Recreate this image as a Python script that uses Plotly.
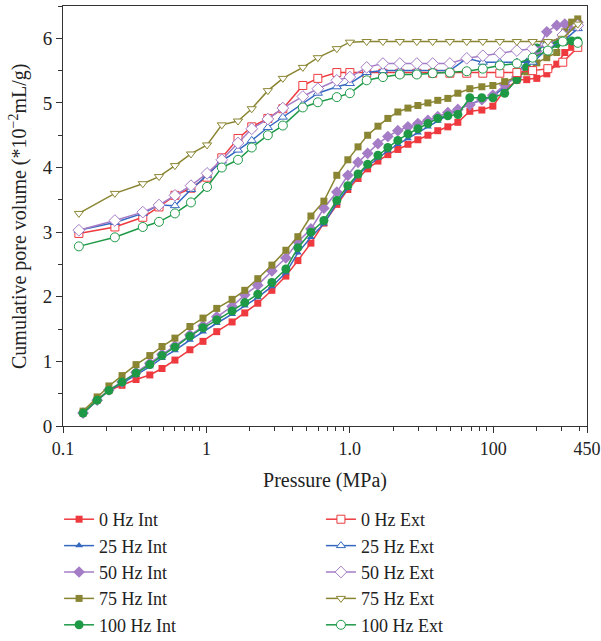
import plotly.graph_objects as go

# Intrusion (Int) pressure grid, MPa
p_int = [0.138, 0.173, 0.209, 0.258, 0.323, 0.403, 0.490, 0.603, 0.767, 0.946,
         1.18, 1.51, 1.85, 2.28, 2.86, 3.58, 4.34, 5.35, 6.59, 8.11,
         9.68, 11.4, 13.3, 15.7, 18.4, 21.6, 25.4, 29.8, 35.0, 41.0,
         48.2, 56.6, 68.6, 83.2, 99.3, 120, 146, 171, 201, 236,
         277, 315, 352, 388]

int_0 = [0.20, 0.40, 0.55, 0.63, 0.72, 0.79, 0.89, 1.02, 1.18, 1.31,
         1.46, 1.61, 1.75, 1.90, 2.10, 2.32, 2.56, 2.83, 3.14, 3.43,
         3.66, 3.83, 3.98, 4.10, 4.20, 4.28, 4.36, 4.43, 4.50, 4.57,
         4.63, 4.70, 4.87, 4.89, 4.95, 5.20, 5.35, 5.36, 5.38, 5.45,
         5.60, 5.78, 5.86, 5.88]
int_25 = [0.20, 0.39, 0.55, 0.66, 0.79, 0.92, 1.05, 1.17, 1.33, 1.46,
          1.59, 1.73, 1.86, 1.99, 2.16, 2.37, 2.68, 2.92, 3.13, 3.45,
          3.68, 3.88, 4.02, 4.15, 4.26, 4.36, 4.45, 4.54, 4.63, 4.72,
          4.80, 4.90, 4.98, 5.05, 5.10, 5.25, 5.45, 5.65, 5.82, 5.90,
          5.95, 6.05, 6.15, 6.22]
int_50 = [0.20, 0.40, 0.56, 0.68, 0.83, 0.97, 1.11, 1.24, 1.41, 1.55,
          1.69, 1.85, 2.03, 2.18, 2.40, 2.60, 2.85, 3.05, 3.37, 3.62,
          3.88, 4.08, 4.22, 4.37, 4.48, 4.57, 4.63, 4.68, 4.73, 4.79,
          4.85, 4.90, 4.97, 5.05, 5.12, 5.28, 5.40, 5.52, 5.80, 6.10,
          6.20, 6.22, 6.20, 6.25]
int_75 = [0.23, 0.45, 0.62, 0.78, 0.95, 1.09, 1.23, 1.36, 1.54, 1.67,
          1.82, 1.96, 2.10, 2.28, 2.49, 2.72, 2.93, 3.25, 3.48, 3.88,
          4.12, 4.32, 4.50, 4.64, 4.76, 4.86, 4.92, 4.96, 5.00, 5.04,
          5.07, 5.15, 5.22, 5.25, 5.27, 5.33, 5.40, 5.48, 5.62, 5.70,
          5.78, 6.10, 6.25, 6.30]
int_100 = [0.20, 0.40, 0.55, 0.68, 0.82, 0.95, 1.09, 1.22, 1.39, 1.52,
           1.64, 1.78, 1.91, 2.04, 2.22, 2.43, 2.76, 3.00, 3.18, 3.49,
           3.72, 3.90, 4.05, 4.19, 4.31, 4.42, 4.52, 4.60, 4.68, 4.76,
           4.80, 4.82, 5.08, 5.08, 5.08, 5.15, 5.36, 5.55, 5.85, 5.90,
           5.92, 5.95, 5.96, 5.96]

# Extrusion (Ext) pressure grid, MPa
p_ext = [0.129, 0.230, 0.360, 0.467, 0.603, 0.780, 1.01, 1.28, 1.66, 2.07,
         2.68, 3.41, 4.70, 5.98, 8.11, 10.0, 13.1, 17.0, 22.3, 29.3,
         37.8, 49.8, 65.3, 84.5, 111, 146, 188, 240, 305, 388]

ext_0 = [2.98, 3.08, 3.23, 3.39, 3.57, 3.68, 3.85, 4.15, 4.45, 4.63,
         4.76, 4.91, 5.27, 5.38, 5.47, 5.47, 5.46, 5.46, 5.46, 5.46,
         5.46, 5.46, 5.46, 5.46, 5.46, 5.47, 5.50, 5.53, 5.63, 5.86]
ext_25 = [3.03, 3.15, 3.29, 3.42, 3.41, 3.66, 3.88, 4.10, 4.27, 4.42,
          4.62, 4.78, 4.98, 5.15, 5.25, 5.30, 5.47, 5.50, 5.50, 5.50,
          5.50, 5.50, 5.69, 5.63, 5.63, 5.63, 5.63, 5.84, 5.95, 6.15]
ext_50 = [3.03, 3.18, 3.31, 3.42, 3.57, 3.72, 3.91, 4.12, 4.38, 4.60,
          4.75, 4.92, 5.10, 5.22, 5.35, 5.40, 5.55, 5.61, 5.61, 5.61,
          5.61, 5.61, 5.69, 5.73, 5.77, 5.81, 5.84, 5.90, 6.05, 6.20]
ext_75 = [3.29, 3.60, 3.75, 3.86, 4.03, 4.21, 4.35, 4.66, 4.72, 4.91,
          5.19, 5.38, 5.55, 5.70, 5.84, 5.94, 5.95, 5.95, 5.95, 5.95,
          5.95, 5.95, 5.95, 5.95, 5.95, 5.95, 5.95, 5.95, 6.00, 6.22]
ext_100 = [2.78, 2.92, 3.08, 3.16, 3.29, 3.46, 3.70, 4.00, 4.12, 4.31,
           4.50, 4.65, 4.93, 5.01, 5.09, 5.15, 5.35, 5.40, 5.44, 5.44,
           5.46, 5.47, 5.49, 5.53, 5.58, 5.61, 5.70, 5.81, 5.95, 5.93]

labels = ["0 Hz", "25 Hz", "50 Hz", "75 Hz", "100 Hz"]
colors = ["#EE3A3F", "#3568C0", "#A57CC6", "#8A8532", "#1E9A47"]
int_symbols = ["square", "triangle-up", "diamond", "square", "circle"]
ext_symbols = ["square", "triangle-up", "diamond", "triangle-down", "circle"]
int_sizes = [7, 7, 9, 7, 9]
ext_sizes = [8, 8, 9, 8, 9]
int_data = [int_0, int_25, int_50, int_75, int_100]
ext_data = [ext_0, ext_25, ext_50, ext_75, ext_100]

FONT = "Liberation Serif"
fig = go.Figure()
for i in range(5):
    fig.add_trace(go.Scatter(
        x=p_int, y=int_data[i], mode="lines+markers", name=labels[i] + " Int",
        legend="legend",
        line=dict(color=colors[i], width=1.5),
        marker=dict(symbol=int_symbols[i], size=int_sizes[i], color=colors[i],
                    line=dict(width=0))))
for i in range(5):
    fig.add_trace(go.Scatter(
        x=p_ext, y=ext_data[i], mode="lines+markers", name=labels[i] + " Ext",
        legend="legend2",
        line=dict(color=colors[i], width=1.5),
        marker=dict(symbol=ext_symbols[i], size=ext_sizes[i], color="white",
                    line=dict(width=1, color=colors[i]))))

minor_x = [0.2, 0.3, 0.4, 0.5, 0.6, 0.7, 0.8, 0.9,
           2, 3, 4, 5, 6, 7, 8, 9,
           20, 30, 40, 50, 60, 70, 80, 90,
           200, 300, 400]

leg_common = dict(orientation="v", xref="container", yref="container",
                  xanchor="left", yanchor="top", y=0.2184,
                  font=dict(family=FONT, size=18, color="#222"),
                  bgcolor="rgba(0,0,0,0)", traceorder="normal")

fig.update_layout(
    width=601, height=641,
    margin=dict(l=63, r=14, t=6, b=215, autoexpand=False),
    paper_bgcolor="white", plot_bgcolor="white",
    font=dict(family=FONT, size=19, color="#222"),
    showlegend=True,
    legend=dict(x=0.0983, **leg_common),
    legend2=dict(x=0.534, **leg_common),
    xaxis=dict(type="log", range=[-1, 2.6532], automargin=False,
               tickmode="array", tickvals=[0.1, 1, 10, 100, 450],
               ticktext=["0.1", "1", "1.0", "100", "450"],
               tickfont=dict(size=18),
               ticks="outside", ticklen=6, tickwidth=1, tickcolor="#333",
               showline=True, linecolor="#333", linewidth=1, mirror=True,
               showgrid=False, zeroline=False,
               minor=dict(tickmode="array", tickvals=minor_x, ticks="outside",
                          ticklen=4, tickwidth=1, tickcolor="#333", showgrid=False),
               title=dict(text="Pressure (MPa)",
                          font=dict(family=FONT, size=20))),
    yaxis=dict(range=[0, 6.5], tickmode="array", tickvals=[0, 1, 2, 3, 4, 5, 6],
               automargin=False, tickfont=dict(size=19),
               ticks="outside", ticklen=6, tickwidth=1, tickcolor="#333",
               showline=True, linecolor="#333", linewidth=1, mirror=True,
               showgrid=False, zeroline=False,
               minor=dict(dtick=0.5, ticks="outside", ticklen=4, tickwidth=1,
                          tickcolor="#333", showgrid=False)),
    annotations=[dict(text="Cumulative pore volume (*10<sup>−2</sup>mL/g)",
                      xref="paper", yref="paper", x=-0.0859, y=0.5,
                      xanchor="center", yanchor="middle", textangle=-90,
                      showarrow=False, font=dict(family=FONT, size=20, color="#222"))],
)

fig.write_html("out.html", config={"displayModeBar": False},
               post_script="document.body.style.margin='0';document.body.style.padding='0';")
